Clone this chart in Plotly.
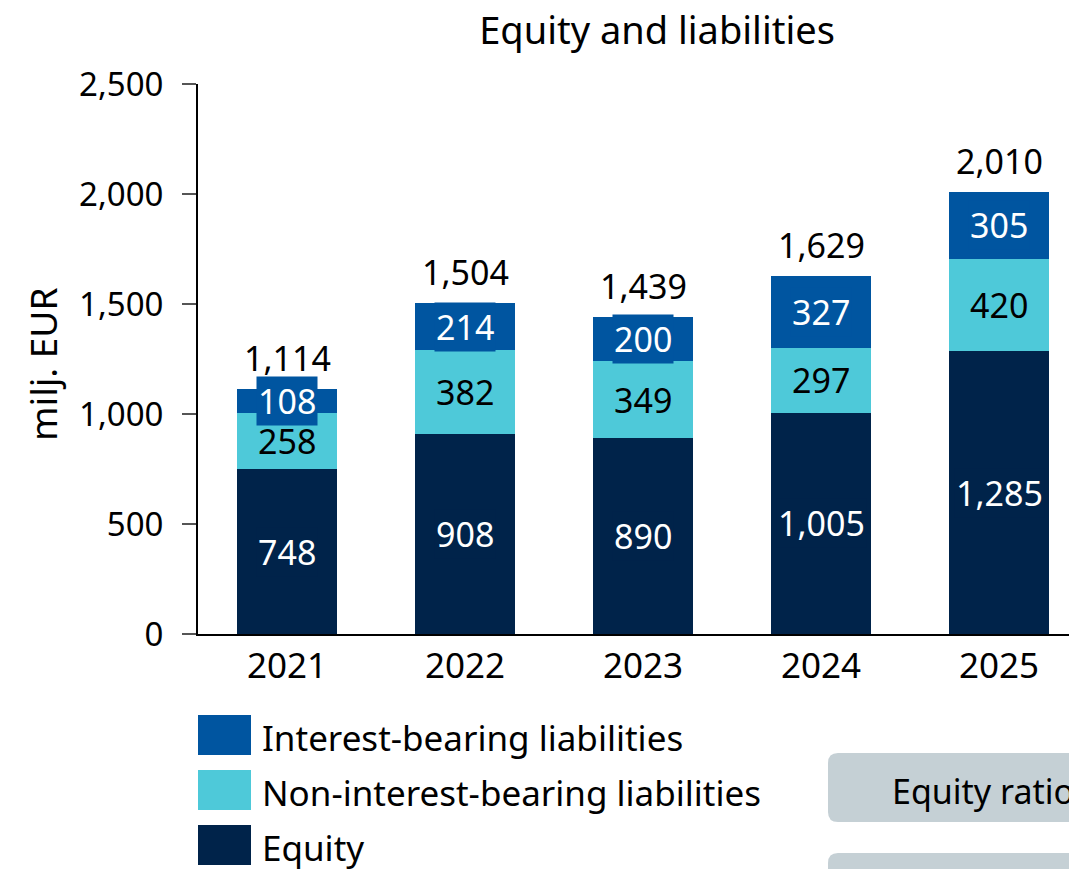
import plotly.graph_objects as go

years = ["2021", "2022", "2023", "2024", "2025"]
equity = [748, 908, 890, 1005, 1285]
non_interest = [258, 382, 349, 297, 420]
interest = [108, 214, 200, 327, 305]
totals = [1114, 1504, 1439, 1629, 2010]

series_names = ["Equity", "Non-interest-bearing liabilities", "Interest-bearing liabilities"]
colors = ["#00234A", "#4EC9D9", "#0055A0"]
text_colors = ["white", "black", "white"]
series_values = [equity, non_interest, interest]

W, H = 1069, 869
L, R, T, B = 198, 0, 84, 235
FONT = "Noto Sans"
LBL = 34

fig = go.Figure()
for name, vals, col in zip(series_names, series_values, colors):
    fig.add_trace(go.Bar(x=years, y=vals, name=name, marker=dict(color=col, line=dict(width=0)),
                         showlegend=False, hoverinfo="skip"))

# segment labels
for s_idx, (vals, col, tc) in enumerate(zip(series_values, colors, text_colors)):
    for i in range(len(years)):
        base = sum(series_values[k][i] for k in range(s_idx))
        fig.add_annotation(x=i, y=base + vals[i] / 2, text=f"{vals[i]:,}", showarrow=False,
                           font=dict(family=FONT, size=LBL, color=tc), bgcolor=col, borderpad=1,
                           xref="x", yref="y")

# totals
for i, t in enumerate(totals):
    fig.add_annotation(x=i, y=t, text=f"{t:,}", showarrow=False, yanchor="bottom", yshift=6,
                       font=dict(family=FONT, size=LBL, color="black"), xref="x", yref="y")

pw, ph = W - L - R, H - T - B
def px(x):
    return (x - L) / pw
def py(y):
    return (H - B - y) / ph

# custom legend
legend_order = [2, 1, 0]
for row, idx in enumerate(legend_order):
    top = 715 + row * 55
    fig.add_shape(type="rect", xref="paper", yref="paper", x0=px(198), x1=px(251),
                  y0=py(top + 40), y1=py(top), fillcolor=colors[idx], line=dict(width=0))
    fig.add_annotation(xref="paper", yref="paper", x=px(260), y=py(top + 22), xanchor="left",
                       yanchor="middle", text=series_names[idx], showarrow=False,
                       font=dict(family=FONT, size=35, color="black"))

def rounded(x0, y0, x1, y1, r=10):
    def P(x, y):
        return f"{px(x)},{py(y)}"
    return (f"M {P(x0 + r, y0)} L {P(x1 - r, y0)} Q {P(x1, y0)} {P(x1, y0 + r)} "
            f"L {P(x1, y1 - r)} Q {P(x1, y1)} {P(x1 - r, y1)} L {P(x0 + r, y1)} "
            f"Q {P(x0, y1)} {P(x0, y1 - r)} L {P(x0, y0 + r)} Q {P(x0, y0)} {P(x0 + r, y0)} Z")

fig.add_shape(type="path", xref="paper", yref="paper", path=rounded(828, 753, 1120, 822),
              fillcolor="#C5D0D5", line=dict(width=0))
fig.add_shape(type="path", xref="paper", yref="paper", path=rounded(828, 853, 1120, 920),
              fillcolor="#C5D0D5", line=dict(width=0))
fig.add_annotation(xref="paper", yref="paper", x=px(890), y=py(791), xanchor="left", yanchor="middle",
                   text="Equity ratio", showarrow=False, font=dict(family=FONT, size=LBL, color="black"))

# y-axis title
fig.add_annotation(xref="paper", yref="paper", x=px(42), y=py(365), xanchor="center", yanchor="middle",
                   text="milj. EUR", textangle=-90, showarrow=False,
                   font=dict(family=FONT, size=37, color="black"))

fig.update_layout(
    width=W, height=H, barmode="stack", bargap=0.44,
    margin=dict(l=L, r=R, t=T, b=B, autoexpand=False),
    plot_bgcolor="white", paper_bgcolor="white",
    font=dict(family=FONT, size=LBL, color="black"),
    title=dict(text="Equity and liabilities", x=657 / W, xanchor="center", y=1 - 31 / H,
               yanchor="middle", font=dict(family=FONT, size=38, color="black")),
    xaxis=dict(type="category", range=[-0.5, -0.5 + pw / 178], showline=True, linecolor="black",
               linewidth=2, ticks="", tickfont=dict(family=FONT, size=35, color="black"),
               showgrid=False, fixedrange=True),
    yaxis=dict(range=[0, 2500], tickvals=[0, 500, 1000, 1500, 2000, 2500], tickformat=",",
               showline=True, linecolor="black", linewidth=2, ticks="outside", ticklen=14,
               tickcolor="#555555", tickwidth=1.5, showgrid=False, zeroline=False,
               tickfont=dict(family=FONT, size=33, color="black"), ticklabelstandoff=12,
               fixedrange=True),
)
fig.write_html("out.html", config={"displayModeBar": False},
               post_script="document.body.style.margin='0';")
